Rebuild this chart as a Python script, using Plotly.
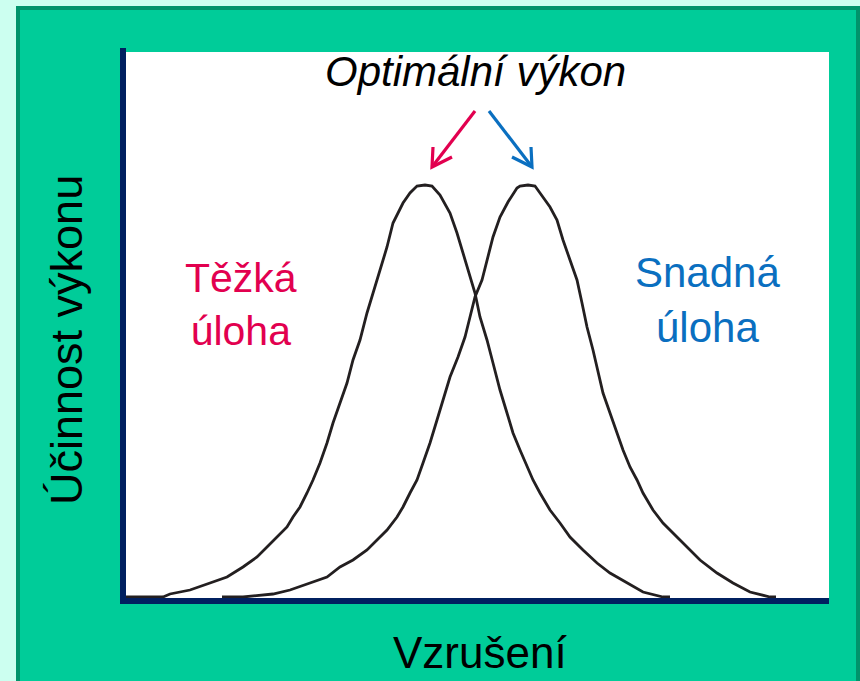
import plotly.graph_objects as go

# ---- data (arbitrary units: arousal on x, performance efficiency on y) ----
hard_x = [0.0, 3.7, 4.4, 6.4, 8.4, 10.1, 11.7, 13.1, 14.1, 15.1, 16.1, 16.7, 17.4, 18.1, 18.7,
          19.4, 20.1, 20.7, 21.4, 22.1, 22.7, 23.4, 24.1, 24.7, 25.4, 26.1, 26.7, 27.7, 28.4,
          29.1, 29.9, 30.6, 31.4, 32.4, 33.1, 33.7, 34.4, 34.9, 35.4, 36.1, 36.7, 37.4, 38.1,
          38.7, 39.4, 40.1, 40.7, 41.4, 42.4, 43.4, 44.4, 45.7, 47.1, 48.4, 50.1, 51.7, 53.7, 54.4]
hard_y = [0.1, 0.1, 0.4, 0.8, 1.5, 2.1, 3.1, 4.1, 5.1, 6.1, 7.1, 8.1, 9.1, 10.5, 11.8,
          13.5, 15.5, 17.5, 19.5, 21.5, 23.8, 25.8, 28.5, 30.5, 32.8, 35.1, 37.5, 39.5, 40.5,
          41.2, 41.3, 41.2, 40.3, 38.5, 36.5, 34.5, 32.1, 30.5, 28.1, 25.8, 23.5, 20.8, 18.5,
          16.5, 14.8, 13.1, 11.8, 10.5, 8.8, 7.5, 6.1, 4.8, 3.5, 2.5, 1.5, 0.6, 0.1, 0.1]

easy_x = [9.6, 11.7, 14.7, 16.4, 18.4, 20.1, 21.4, 22.7, 24.1, 25.1, 26.1, 27.1, 27.7, 28.4,
          29.1, 29.7, 30.4, 31.1, 31.7, 32.4, 33.2, 33.9, 34.4, 34.9, 35.6, 36.2, 36.7, 37.4,
          38.2, 39.1, 39.4, 40.2, 40.9, 41.4, 42.4, 43.1, 43.7, 44.4, 45.1, 45.6, 46.1, 46.7,
          47.2, 47.7, 48.4, 49.1, 49.7, 50.4, 51.1, 51.7, 52.7, 53.7, 54.7, 56.1, 57.4, 59.1,
          60.7, 62.4, 64.4, 65.0]
easy_y = [0.1, 0.1, 0.4, 0.8, 1.5, 2.1, 3.1, 3.8, 4.8, 5.8, 6.8, 8.1, 9.1, 10.5,
          11.8, 13.5, 15.5, 17.8, 19.8, 22.1, 24.1, 26.1, 28.1, 30.1, 31.8, 34.1, 36.1, 38.1,
          39.6, 41.0, 41.2, 41.3, 41.2, 40.5, 39.1, 37.8, 35.8, 33.8, 31.8, 29.5, 27.1, 24.8,
          22.5, 20.5, 18.5, 16.5, 14.8, 13.1, 11.8, 10.5, 8.8, 7.5, 6.5, 5.1, 3.8, 2.5,
          1.5, 0.6, 0.1, 0.1]

title_x = "Vzrušení"
title_y = "Účinnost výkonu"
label_top = "Optimální výkon"
label_hard = "Těžká<br>úloha"
label_easy = "Snadná<br>úloha"

# ---- layout geometry (pixels) ----
W, H = 860, 681
L, R, T, B = 126, 31, 52, 83
PW, PH = W - L - R, H - T - B

def PX(px):
    return (px - L) / PW

def PY(py):
    return (H - B - py) / PH

FONT = "Liberation Sans, Arial, sans-serif"
RED = "#e2004f"
BLUE = "#0a6fc0"
NAVY = "#002060"
CURVE = "#231f20"

fig = go.Figure()
fig.add_trace(go.Scatter(x=hard_x, y=hard_y, mode="lines",
                         line=dict(color=CURVE, width=2.8), hoverinfo="skip", showlegend=False))
fig.add_trace(go.Scatter(x=easy_x, y=easy_y, mode="lines",
                         line=dict(color=CURVE, width=2.8), hoverinfo="skip", showlegend=False))

shapes = [
    # green panel with darker border
    dict(type="rect", xref="paper", yref="paper", layer="below",
         x0=PX(18), x1=PX(858), y0=PY(8), y1=PY(700),
         fillcolor="#00cc99", line=dict(color="#00936b", width=4)),
    # white plotting area
    dict(type="rect", xref="paper", yref="paper", layer="below",
         x0=0, x1=1, y0=0, y1=1, fillcolor="white", line=dict(width=0)),
    # short extension of the vertical axis bar above the plotting area
    dict(type="rect", xref="paper", yref="paper", layer="above",
         x0=PX(120), x1=PX(126), y0=PY(52), y1=PY(48), fillcolor=NAVY, line=dict(width=0)),
]

def arrow(tail, tip, a1, a2, color):
    p = lambda q: f"{PX(q[0])},{PY(q[1])}"
    return [
        dict(type="line", xref="paper", yref="paper", x0=PX(tail[0]), y0=PY(tail[1]),
             x1=PX(tip[0]), y1=PY(tip[1]), line=dict(color=color, width=3.2)),
        dict(type="path", xref="paper", yref="paper",
             path=f"M{p(a1)} L{p(tip)} L{p(a2)}", line=dict(color=color, width=3.2)),
    ]

shapes += arrow((475, 111), (432, 167), (433, 147), (452, 157), RED)
shapes += arrow((489, 111), (532, 167), (531, 147), (512, 157), BLUE)

annotations = [
    dict(text=label_top, xref="paper", yref="paper", x=PX(475), y=PY(72),
         xanchor="center", yanchor="middle", showarrow=False,
         font=dict(family=FONT, size=42, color="black", style="italic")),
    dict(text=label_hard, xref="paper", yref="paper", x=PX(241), y=PY(304),
         xanchor="center", yanchor="middle", showarrow=False,
         font=dict(family=FONT, size=41, color=RED)),
    dict(text=label_easy, xref="paper", yref="paper", x=PX(707), y=PY(300),
         xanchor="center", yanchor="middle", showarrow=False,
         font=dict(family=FONT, size=42, color=BLUE)),
    dict(text=title_x, xref="paper", yref="paper", x=PX(480), y=PY(652),
         xanchor="center", yanchor="middle", showarrow=False,
         font=dict(family=FONT, size=44, color="black")),
    dict(text=title_y, xref="paper", yref="paper", x=PX(66), y=PY(340),
         xanchor="center", yanchor="middle", showarrow=False, textangle=-90,
         font=dict(family=FONT, size=45, color="black")),
]

fig.update_layout(
    width=W, height=H,
    margin=dict(l=L, r=R, t=T, b=B, pad=0),
    paper_bgcolor="#ccfff0",
    plot_bgcolor="white",
    shapes=shapes,
    annotations=annotations,
    showlegend=False,
    xaxis=dict(range=[0, 70.3], showgrid=False, zeroline=False, showticklabels=False,
               ticks="", showline=True, linecolor=NAVY, linewidth=6, fixedrange=True),
    yaxis=dict(range=[0, 54.6], showgrid=False, zeroline=False, showticklabels=False,
               ticks="", showline=True, linecolor=NAVY, linewidth=6, fixedrange=True),
)

fig.write_html("out.html", config={"displayModeBar": False},
               post_script="document.body.style.margin='0';document.body.style.background='#ccfff0';")
